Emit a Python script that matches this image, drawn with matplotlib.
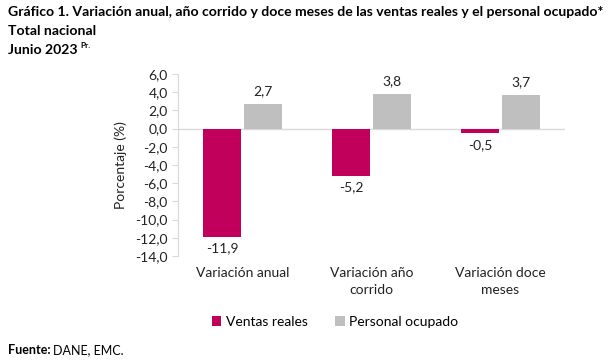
import matplotlib
matplotlib.use("Agg")
import matplotlib.pyplot as plt
import numpy as np

categories = ["Variación anual", "Variación año\ncorrido", "Variación doce\nmeses"]
ventas = [-11.9, -5.2, -0.5]
personal = [2.7, 3.8, 3.7]
yticks = np.arange(-14, 6.01, 2)

plt.rcParams['font.family'] = ['Lato', 'DejaVu Sans']
fig = plt.figure(figsize=(6.13, 3.61), dpi=100)
ax = fig.add_axes([178/613, 1-256/361, 387/613, 182/361])

x = np.arange(len(categories))
w = 0.295
gap = 0.02
c1 = "#C0005A"
c2 = "#BFBFBF"
b1 = ax.bar(x - w/2 - gap/2, ventas, w, color=c1, label="Ventas reales")
b2 = ax.bar(x + w/2 + gap/2, personal, w, color=c2, label="Personal ocupado")

for xi, v in zip(x - w/2 - gap/2, ventas):
    ax.annotate(f"{v:.1f}".replace(".", ","), (xi, v), xytext=(0, -4), textcoords="offset points",
                ha="center", va="top", fontsize=10, color="#222222")
for xi, v in zip(x + w/2 + gap/2, personal):
    ax.annotate(f"{v:.1f}".replace(".", ","), (xi, v), xytext=(0, 5), textcoords="offset points",
                ha="center", va="bottom", fontsize=10, color="#222222")

ax.set_xlim(-0.5, 2.5)
ax.set_ylim(-14, 6)
ax.set_yticks(yticks)
ax.set_yticklabels([f"{t:.1f}".replace(".", ",") for t in yticks], fontsize=10, color="#222222")
ax.axhline(0, color="#D9D9D9", lw=1, zorder=0)
for s in ["top", "right", "bottom"]:
    ax.spines[s].set_visible(False)
ax.spines["left"].set_color("#D9D9D9")
ax.tick_params(axis="y", color="#D9D9D9", length=4)
ax.set_xticks([])
ax.set_ylabel("Porcentaje (%)", fontsize=10, color="#222222", labelpad=6)

for xi, c in zip(x, categories):
    ax.text(xi, -15.2, c, ha="center", va="top", fontsize=10, color="#222222", linespacing=1.5,
            transform=ax.transData)

fig.legend(handles=[b1, b2], loc="center", bbox_to_anchor=(335/613, 1-322/361), ncol=2,
           frameon=False, fontsize=10, handlelength=0.7, handleheight=0.7, columnspacing=2.0,
           handletextpad=0.3)

fig.text(8/613, 1-12/361, "Gráfico 1. Variación anual, año corrido y doce meses de las ventas reales y el personal ocupado*",
         fontsize=10.1, fontweight="bold", va="center", ha="left")
fig.text(8/613, 1-31/361, "Total nacional", fontsize=10.1, fontweight="bold", va="center", ha="left")
fig.text(8/613, 1-50/361, "Junio 2023", fontsize=10.1, fontweight="bold", va="center", ha="left")
fig.text(80/613, 1-45/361, "Pr.", fontsize=6, fontweight="bold", va="center", ha="left")
fig.text(8/613, 1-350/361, "Fuente:", fontsize=9, fontweight="bold", va="center", ha="left")
fig.text(53/613, 1-350/361, "DANE, EMC.", fontsize=9, va="center", ha="left")

fig.savefig("out.png", dpi=100)
